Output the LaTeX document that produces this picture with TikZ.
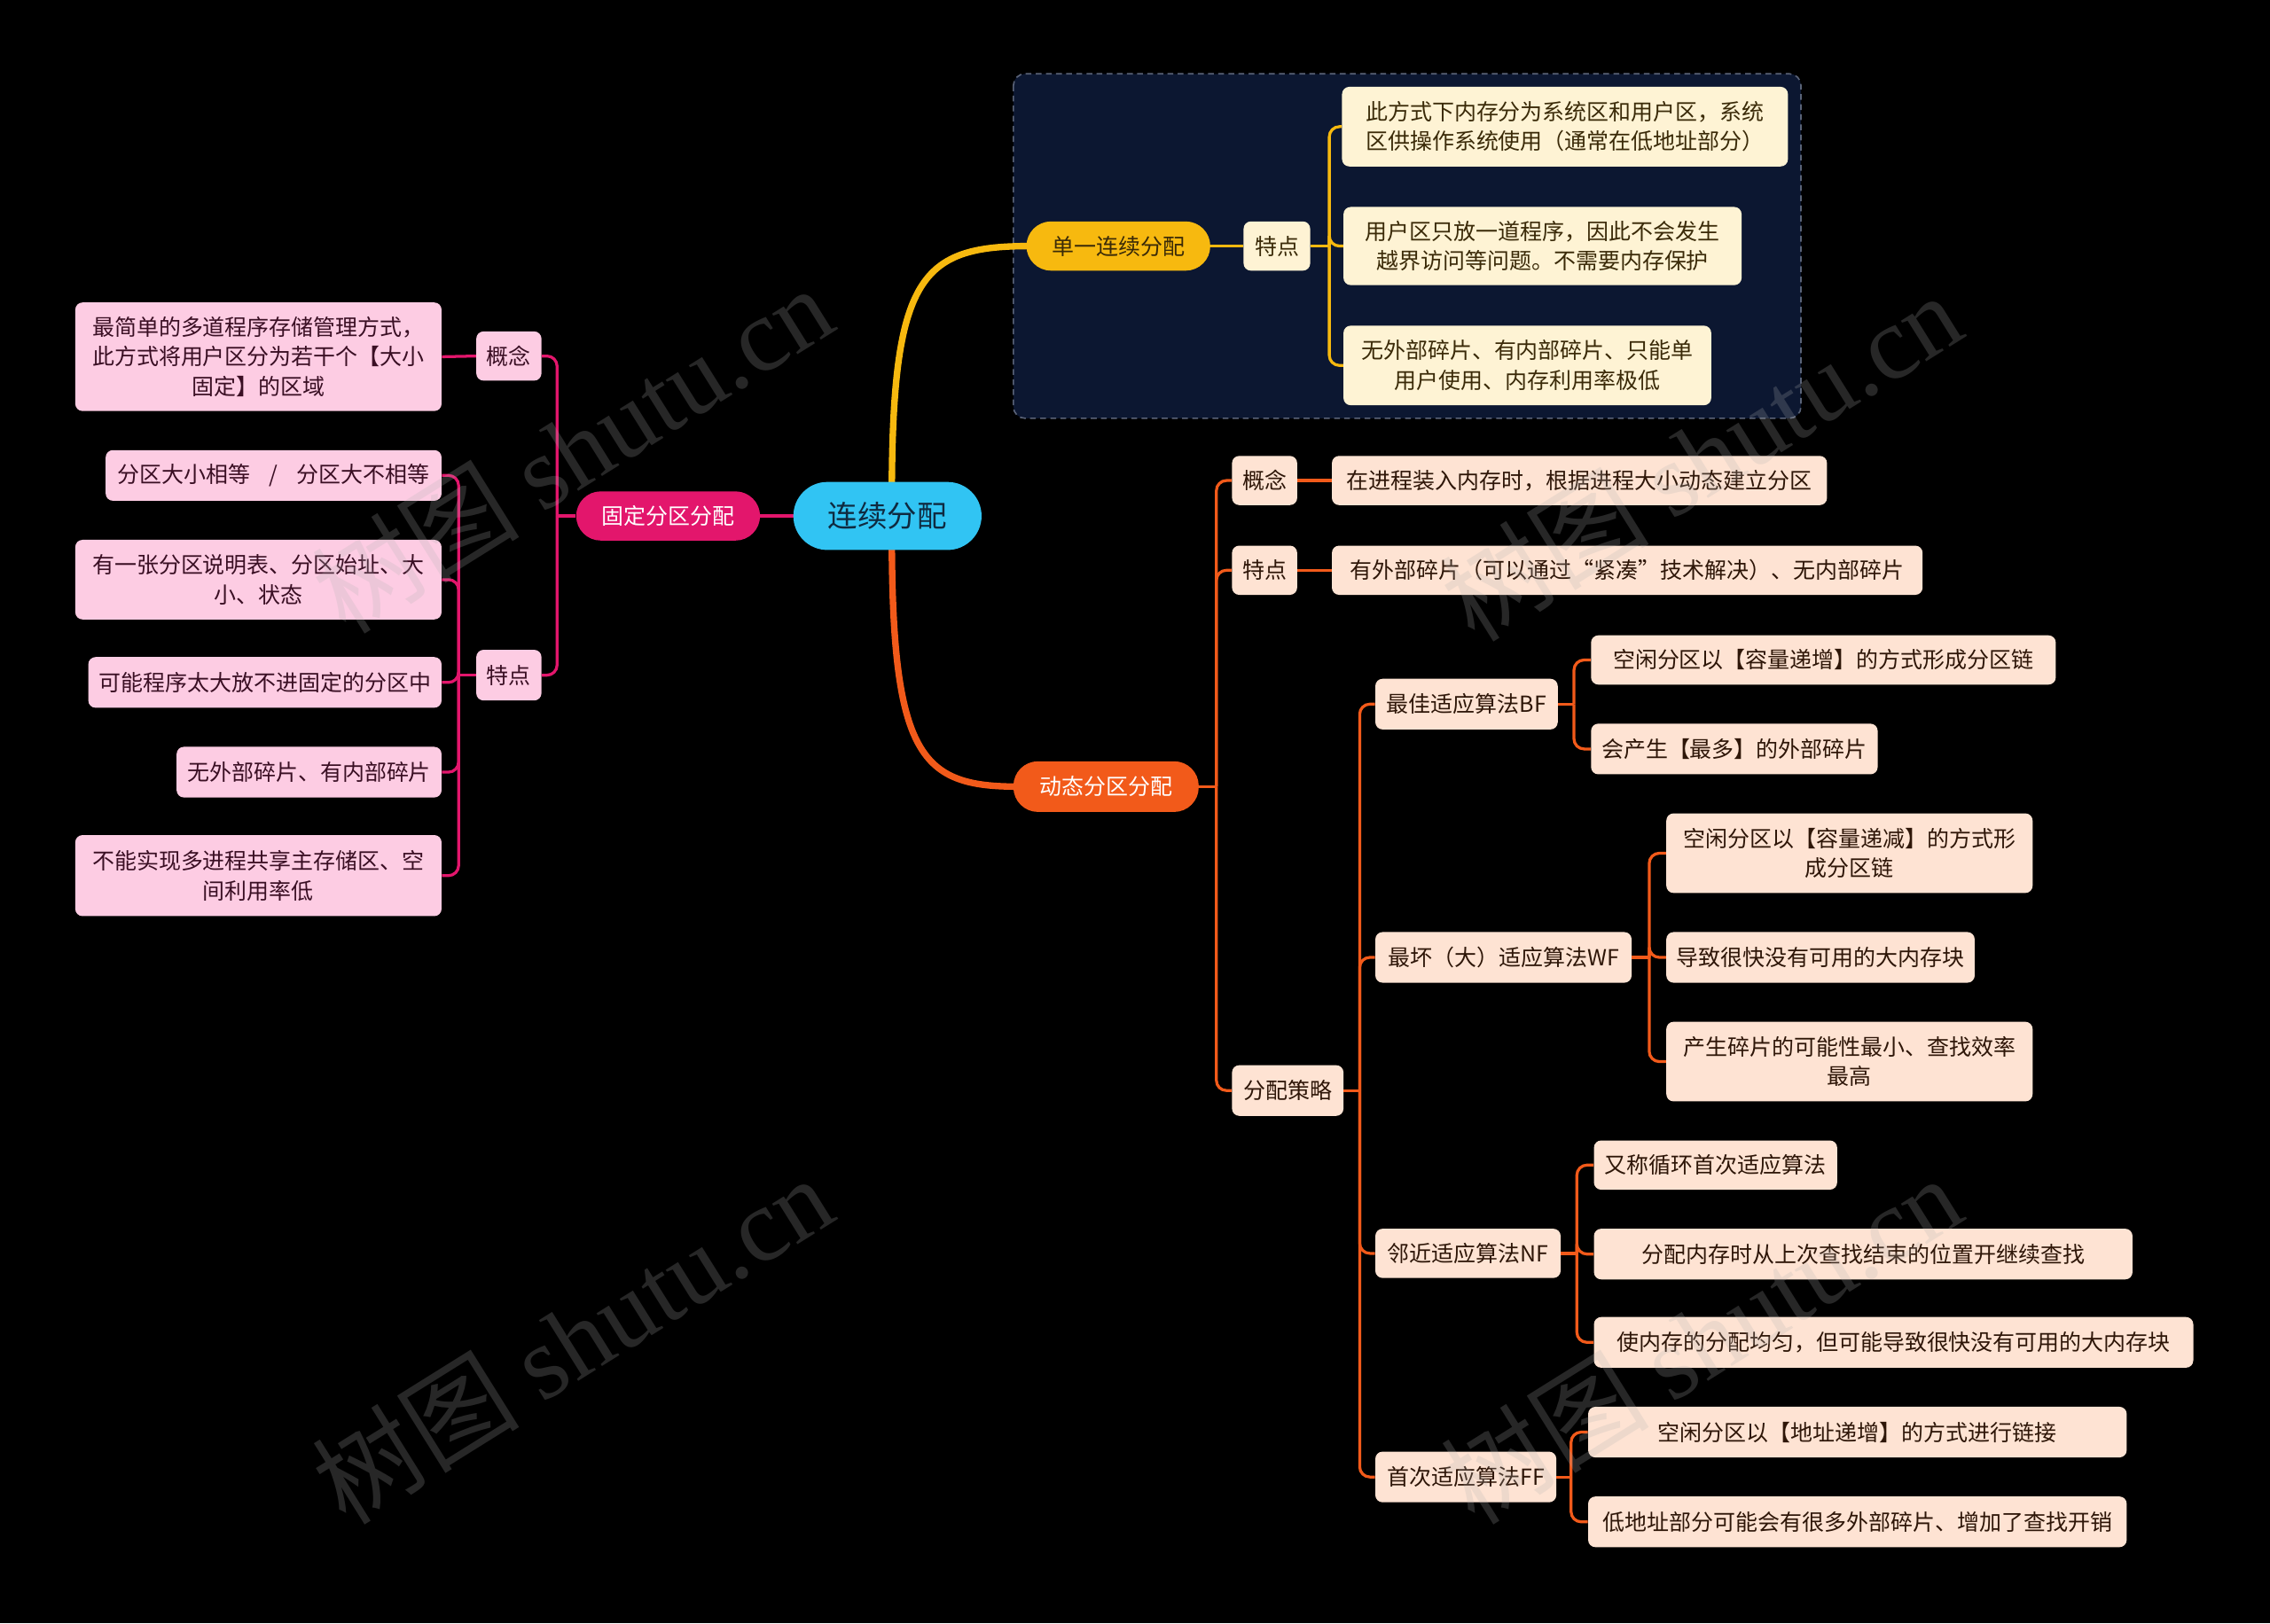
\documentclass[tikz,border=0pt]{standalone}
\usepackage{fontspec}
\setmainfont{Noto Sans CJK SC}
\newfontfamily\wmlatin{Liberation Serif}
\definecolor{ccyan}{HTML}{31C4F3}
\definecolor{ctext}{HTML}{0F2A40}
\definecolor{ycol}{HTML}{F7B90F}
\definecolor{ycream}{HTML}{FEF3D4}
\definecolor{ytext}{HTML}{3A2A08}
\definecolor{pcol}{HTML}{E3166C}
\definecolor{pleaf}{HTML}{FDCCE3}
\definecolor{ptext}{HTML}{3A0F24}
\definecolor{ocol}{HTML}{F25A1A}
\definecolor{oleaf}{HTML}{FEE3D3}
\definecolor{otext}{HTML}{2E1608}
\definecolor{panel}{HTML}{0C1731}
\definecolor{panelbd}{HTML}{5A6378}
\tikzset{
  box/.style={rounded corners=5pt, inner sep=0pt, align=center, font=\fontsize{15.3}{20.5}\selectfont},
  ybox/.style={box, fill=ycream, text=ytext},
  pbox/.style={box, fill=pleaf, text=ptext},
  obox/.style={box, fill=oleaf, text=otext},
  pill/.style={rounded corners=17pt, inner sep=0pt, align=center, font=\fontsize{15.3}{20}\selectfont},
  conn/.style={line width=2pt, rounded corners=7pt},
  yconn/.style={conn, draw=ycol},
  pconn/.style={conn, draw=pcol},
  oconn/.style={conn, draw=ocol},
  wm/.style={text=gray!60, opacity=0.22, rotate=32, font=\fontsize{72}{80}\selectfont}
}
\begin{document}
\begin{tikzpicture}[x=1pt,y=-1pt]
\fill[black] (0,0) rectangle (1568,1121.5);
\useasboundingbox (0,0) rectangle (1568,1121.5);

% top panel
\draw[panelbd, fill=panel, rounded corners=8pt, dashed, dash pattern=on 4pt off 3pt, line width=1pt] (700,51) rectangle (1244,289);

% main branches
\draw[ycol, line width=4.5pt] (616,345) .. controls (616,190) and (636,170) .. (712,170);
\draw[ocol, line width=4.5pt] (616,368) .. controls (616,523) and (636,543.5) .. (703,543.5);
\draw[pcol, line width=3pt] (560,356.5) -- (520,356.5);

% root
\node[pill, fill=ccyan, text=ctext, minimum width=130, minimum height=47, rounded corners=23.5pt, font=\fontsize{20.5}{24}\selectfont] (root) at (613,356.5) {连续分配};

% ===== single contiguous =====
\node[pill, fill=ycol, text=ytext, minimum width=127, minimum height=34] (sg) at (772.5,170) {单一连续分配};
\node[ybox, minimum width=46, minimum height=34] (ytd) at (882,170) {特点};
\node[ybox, minimum width=308, minimum height=55] (y1) at (1081,87.5) {此方式下内存分为系统区和用户区，系统\\区供操作系统使用（通常在低地址部分）};
\node[ybox, minimum width=275, minimum height=54] (y2) at (1065.5,170) {用户区只放一道程序，因此不会发生\\越界访问等问题。不需要内存保护};
\node[ybox, minimum width=254, minimum height=55] (y3) at (1055,252.5) {无外部碎片、有内部碎片、只能单\\用户使用、内存利用率极低};
\draw[yconn] (sg.east) -- (ytd.west);
\draw[yconn] (ytd.east) -- ++(13,0);
\foreach \c in {y1,y2,y3} \draw[yconn] (ytd.east) ++(13,0) |- (\c.west);

% ===== fixed partition =====
\node[pill, fill=pcol, text=white, minimum width=127, minimum height=34] (gd) at (461.5,356.5) {固定分区分配};
\node[pbox, minimum width=45, minimum height=34] (pgn) at (351.5,246) {概念};
\node[pbox, minimum width=45, minimum height=35] (ptd) at (351.5,466.5) {特点};
\node[pbox, minimum width=253, minimum height=75] (p0) at (178.5,246.5) {最简单的多道程序存储管理方式，\\此方式将用户区分为若干个【大小\\固定】的区域};
\node[pbox, minimum width=232, minimum height=35] (p1) at (189,328.5) {分区大小相等\hspace{13pt}/\hspace{13pt}分区大不相等};
\node[pbox, minimum width=253, minimum height=55] (p2) at (178.5,400.5) {有一张分区说明表、分区始址、大\\小、状态};
\node[pbox, minimum width=244, minimum height=35] (p3) at (183,471.5) {可能程序太大放不进固定的分区中};
\node[pbox, minimum width=183, minimum height=35] (p4) at (213.5,533.5) {无外部碎片、有内部碎片};
\node[pbox, minimum width=253, minimum height=56] (p5) at (178.5,605) {不能实现多进程共享主存储区、空\\间利用率低};
\draw[pconn] (gd.west) -- ++(-13,0);
\foreach \c in {pgn,ptd} \draw[pconn] (gd.west) ++(-13,0) |- (\c.east);
\draw[pconn] (pgn.west) -- (p0.east);
\draw[pconn] (ptd.west) -- ++(-12,0);
\foreach \c in {p1,p2,p3,p4,p5} \draw[pconn] (ptd.west) ++(-12,0) |- (\c.east);

% ===== dynamic partition =====
\node[pill, fill=ocol, text=white, minimum width=128, minimum height=35] (dt) at (764,543.5) {动态分区分配};
\node[obox, minimum width=45, minimum height=34] (ogn) at (873.5,332) {概念};
\node[obox, minimum width=45, minimum height=34] (otd) at (873.5,394) {特点};
\node[obox, minimum width=77, minimum height=35] (ocl) at (889.5,753.5) {分配策略};
\node[obox, minimum width=342, minimum height=34] (o1) at (1091,332) {在进程装入内存时，根据进程大小动态建立分区};
\node[obox, minimum width=408, minimum height=34] (o2) at (1124,394) {有外部碎片（可以通过“紧凑”技术解决）、无内部碎片};
\node[obox, minimum width=126, minimum height=35] (bf) at (1013,486.5) {最佳适应算法BF};
\node[obox, minimum width=177, minimum height=35] (wf) at (1038.5,661.5) {最坏（大）适应算法WF};
\node[obox, minimum width=128, minimum height=34] (nf) at (1014,866) {邻近适应算法NF};
\node[obox, minimum width=125, minimum height=35] (ff) at (1012.5,1020.5) {首次适应算法FF};
\node[obox, minimum width=321, minimum height=34] (bf1) at (1259.5,456) {空闲分区以【容量递增】的方式形成分区链};
\node[obox, minimum width=198, minimum height=35] (bf2) at (1198,517.5) {会产生【最多】的外部碎片};
\node[obox, minimum width=253, minimum height=55] (wf1) at (1277.5,589.5) {空闲分区以【容量递减】的方式形\\成分区链};
\node[obox, minimum width=213, minimum height=35] (wf2) at (1257.5,661.5) {导致很快没有可用的大内存块};
\node[obox, minimum width=253, minimum height=55] (wf3) at (1277.5,733.5) {产生碎片的可能性最小、查找效率\\最高};
\node[obox, minimum width=168, minimum height=34] (nf1) at (1185,805) {又称循环首次适应算法};
\node[obox, minimum width=372, minimum height=35] (nf2) at (1287,866.5) {分配内存时从上次查找结束的位置开继续查找};
\node[obox, minimum width=414, minimum height=35] (nf3) at (1308,927.5) {使内存的分配均匀，但可能导致很快没有可用的大内存块};
\node[obox, minimum width=372, minimum height=35] (ff1) at (1283,989.5) {空闲分区以【地址递增】的方式进行链接};
\node[obox, minimum width=372, minimum height=35] (ff2) at (1283,1051.5) {低地址部分可能会有很多外部碎片、增加了查找开销};
\draw[oconn] (dt.east) -- ++(12,0);
\foreach \c in {ogn,otd,ocl} \draw[oconn] (dt.east) ++(12,0) |- (\c.west);
\draw[oconn] (ogn.east) -- (o1.west);
\draw[oconn] (otd.east) -- (o2.west);
\draw[oconn] (ocl.east) -- ++(11,0);
\foreach \c in {bf,wf,nf,ff} \draw[oconn] (ocl.east) ++(11,0) |- (\c.west);
\draw[oconn] (bf.east) -- ++(11,0);
\foreach \c in {bf1,bf2} \draw[oconn] (bf.east) ++(11,0) |- (\c.west);
\draw[oconn] (wf.east) -- ++(12,0);
\foreach \c in {wf1,wf2,wf3} \draw[oconn] (wf.east) ++(12,0) |- (\c.west);
\draw[oconn] (nf.east) -- ++(11,0);
\foreach \c in {nf1,nf2,nf3} \draw[oconn] (nf.east) ++(11,0) |- (\c.west);
\draw[oconn] (ff.east) -- ++(10,0);
\foreach \c in {ff1,ff2} \draw[oconn] (ff.east) ++(10,0) |- (\c.west);

% watermarks
\node[wm] (w1) at (395,310) {树图 {\wmlatin shutu.cn}};
\node[wm] (w2) at (1175,315) {树图 {\wmlatin shutu.cn}};
\node[wm] (w3) at (395,925) {树图 {\wmlatin shutu.cn}};
\node[wm] (w4) at (1175,925) {树图 {\wmlatin shutu.cn}};
\end{tikzpicture}
\end{document}
